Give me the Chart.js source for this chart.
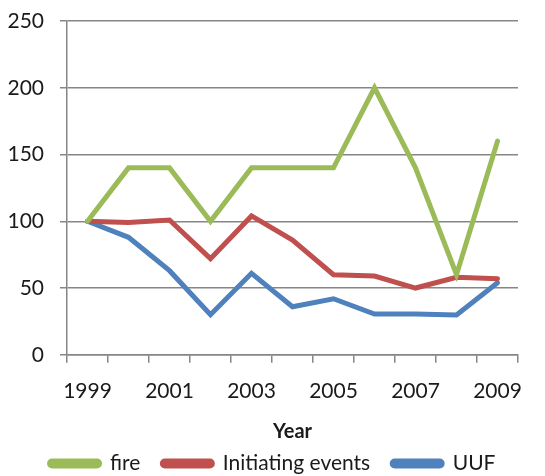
<!DOCTYPE html>
<html>
<head>
<meta charset="utf-8">
<script src="https://cdn.jsdelivr.net/npm/chart.js@4"></script>
<style>
html,body{margin:0;padding:0;background:#fff;}
#wrap{width:545px;height:476px;}
</style>
</head>
<body>
<div id="wrap"><canvas id="c" width="545" height="476"></canvas></div>
<script>
const years = ['1999','2000','2001','2002','2003','2004','2005','2006','2007','2008','2009'];
const fire = [100,140,140,100,140,140,140,200,140,60,160];
const initiatingEvents = [100,99,101,72,104,86,60,59,50,58,57];
const uuf = [100,88,63,30,61,36,42,30.5,30.5,29.8,54];
const yTicks = [0,50,100,150,200,250];

const FONT = 'Lato, "Open Sans", sans-serif';
const GRID = '#868686';

function ds(label, data, color){
  return {label, data, borderColor: color, backgroundColor: color, borderWidth: 5,
    pointRadius: 0, tension: 0, fill: false, borderJoinStyle: 'miter', borderCapStyle: 'round'};
}

new Chart(document.getElementById('c'), {
  type: 'line',
  data: {
    labels: years,
    datasets: [
      ds('fire', fire, '#9BBB59'),
      ds('Initiating events', initiatingEvents, '#C0504D'),
      ds('UUF', uuf, '#4F81BD')
    ]
  },
  options: {
    responsive: false,
    animation: false,
    devicePixelRatio: 1,
    layout: {padding: {left: 0, right: 0, top: 21, bottom: -8}},
    plugins: {
      tooltip: {enabled: false},
      legend: {
        position: 'bottom',
        labels: {
          color: '#1a1a1a',
          font: {family: FONT, size: 21},
          boxWidth: 50, boxHeight: 5,
          useBorderRadius: true, borderRadius: 2.5,
          padding: 22
        }
      }
    },
    scales: {
      x: {
        offset: true,
        afterFit: s => { s.paddingRight = 27; s.paddingLeft = 0; },
        grid: {offset: true, drawOnChartArea: false, drawTicks: true, tickLength: 8, color: GRID, lineWidth: 1.5},
        border: {display: true, color: GRID, width: 1.5},
        ticks: {
          autoSkip: false, maxRotation: 0, color: '#1a1a1a', padding: 16,
          font: {family: FONT, size: 21},
          callback: (v, i) => (i % 2 === 0 ? years[i] : '')
        },
        title: {display: true, text: 'Year', color: '#1a1a1a', font: {family: FONT, size: 20, weight: 'bold'}, padding: {top: 0, bottom: -13}}
      },
      y: {
        min: 0, max: 250,
        afterBuildTicks: s => { s.ticks = yTicks.map(v => ({value: v})); },
        afterFit: s => { s.width = 67; s.paddingTop = 0; s.paddingBottom = 0; },
        grid: {color: GRID, lineWidth: 1.5, tickLength: 7},
        border: {display: true, color: GRID, width: 1.5},
        ticks: {color: '#1a1a1a', padding: 16, font: {family: FONT, size: 21}}
      }
    }
  }
});
</script>
</body>
</html>
